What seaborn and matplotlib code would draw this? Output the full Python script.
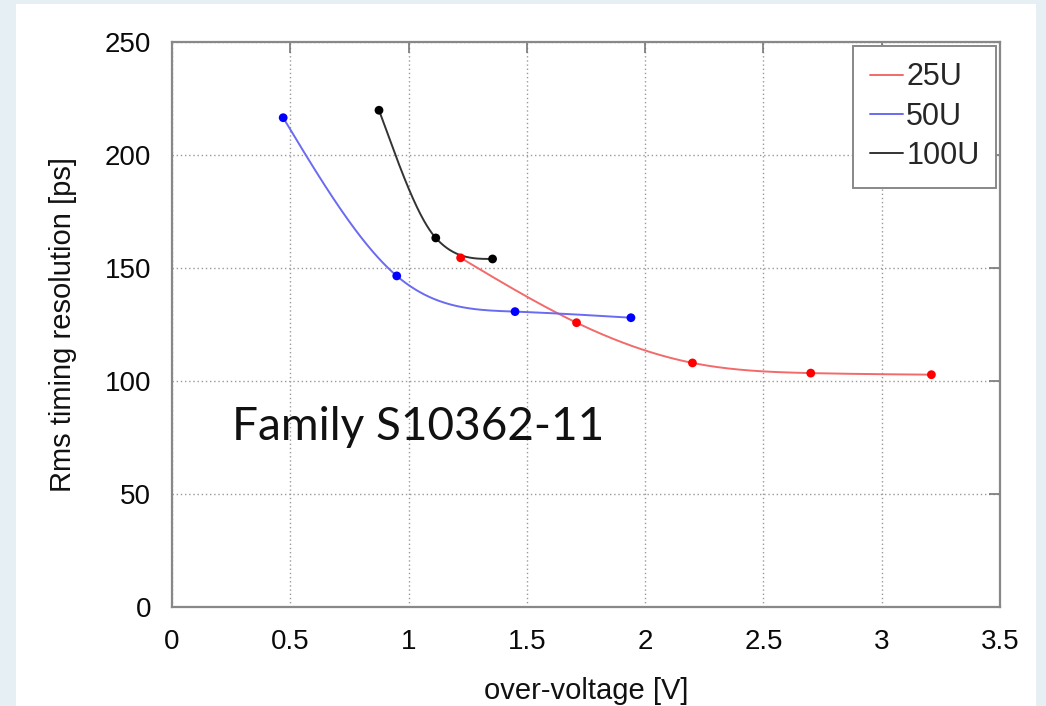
import numpy as np
import pandas as pd
import matplotlib
matplotlib.use("Agg")
import matplotlib.pyplot as plt
from matplotlib.patches import Rectangle
import seaborn as sns

# Measured timing resolution vs over-voltage for the S10362-11 family
series_names = ["25U", "50U", "100U"]
v_25u = [1.22, 1.71, 2.20, 2.70, 3.21]
t_25u = [154.5, 125.8, 108.0, 103.5, 102.8]
v_50u = [0.47, 0.95, 1.45, 1.94]
t_50u = [216.5, 146.5, 130.7, 128.0]
v_100u = [0.875, 1.115, 1.355]
t_100u = [219.8, 163.3, 154.0]

x_ticks = [0, 0.5, 1, 1.5, 2, 2.5, 3, 3.5]
x_tick_labels = ["0", "0.5", "1", "1.5", "2", "2.5", "3", "3.5"]
y_ticks = [0, 50, 100, 150, 200, 250]

line_colors = {"25U": "#f26a6a", "50U": "#6a6af2", "100U": "#333333"}
dot_colors = {"25U": "#ff0000", "50U": "#0000ff", "100U": "#000000"}


def smooth_curve(x, y, n=300):
    """Natural cubic spline slopes, limited so the curve never overshoots."""
    x = np.asarray(x, float)
    y = np.asarray(y, float)
    k = len(x)
    h = np.diff(x)
    delta = np.diff(y) / h
    # second derivatives of the natural spline
    A = np.zeros((k, k))
    b = np.zeros(k)
    A[0, 0] = A[-1, -1] = 1.0
    for i in range(1, k - 1):
        A[i, i - 1] = h[i - 1]
        A[i, i] = 2 * (h[i - 1] + h[i])
        A[i, i + 1] = h[i]
        b[i] = 6 * (delta[i] - delta[i - 1])
    M = np.linalg.solve(A, b)
    d = np.empty(k)
    d[:-1] = delta - h * (2 * M[:-1] + M[1:]) / 6
    d[-1] = delta[-1] + h[-1] * (M[-2] + 2 * M[-1]) / 6
    # Fritsch-Carlson limiting
    for i in range(k - 1):
        if delta[i] == 0:
            d[i] = d[i + 1] = 0.0
            continue
        a, bb = d[i] / delta[i], d[i + 1] / delta[i]
        if a < 0:
            d[i] = 0.0
            a = 0.0
        if bb < 0:
            d[i + 1] = 0.0
            bb = 0.0
        r = a * a + bb * bb
        if r > 9:
            tau = 3 / np.sqrt(r)
            d[i] = tau * a * delta[i]
            d[i + 1] = tau * bb * delta[i]
    xs = np.linspace(x[0], x[-1], n)
    idx = np.clip(np.searchsorted(x, xs) - 1, 0, k - 2)
    t = (xs - x[idx]) / h[idx]
    h00 = 2 * t ** 3 - 3 * t ** 2 + 1
    h10 = t ** 3 - 2 * t ** 2 + t
    h01 = -2 * t ** 3 + 3 * t ** 2
    h11 = t ** 3 - t ** 2
    ys = (h00 * y[idx] + h10 * h[idx] * d[idx]
          + h01 * y[idx + 1] + h11 * h[idx] * d[idx + 1])
    return xs, ys


raw = {"25U": (v_25u, t_25u), "50U": (v_50u, t_50u), "100U": (v_100u, t_100u)}
points = pd.concat(
    [pd.DataFrame({"V": v, "T": t, "series": name}) for name, (v, t) in raw.items()],
    ignore_index=True,
)
curves = []
for name, (v, t) in raw.items():
    xs, ys = smooth_curve(v, t)
    curves.append(pd.DataFrame({"V": xs, "T": ys, "series": name}))
curves = pd.concat(curves, ignore_index=True)

sns.set_style("white")
plt.rcParams["font.family"] = ["Liberation Sans", "DejaVu Sans"]

fig = plt.figure(figsize=(10.46, 7.06), dpi=100)
fig.patch.set_facecolor("#e6eff4")
fig.patches.append(Rectangle((16 / 1046, 0), 1020 / 1046, 702 / 706,
                             transform=fig.transFigure, facecolor="white",
                             edgecolor="none", zorder=-10))

ax = fig.add_axes([172 / 1046, 99 / 706, 828 / 1046, 565 / 706])
ax.set_zorder(1)
ax.set_facecolor("white")

sns.lineplot(data=curves, x="V", y="T", hue="series", hue_order=series_names,
             palette=line_colors, linewidth=1.4, sort=False, estimator=None,
             ax=ax, zorder=3)
sns.scatterplot(data=points, x="V", y="T", hue="series", hue_order=series_names,
                palette=dot_colors, s=40, edgecolor="none", legend=False,
                ax=ax, zorder=4)

ax.set_xlim(0, 3.5)
ax.set_ylim(0, 250)
ax.set_xticks(x_ticks)
ax.set_xticklabels(x_tick_labels)
ax.set_yticks(y_ticks)
ax.grid(True, color="#999999", linestyle=(0, (1, 2)), linewidth=1.0)
ax.tick_params(direction="in", length=8, width=1.2, color="#777777",
               top=True, right=True, labelsize=20, labelcolor="#0a0a0a")
ax.tick_params(axis="y", pad=15)
ax.tick_params(axis="x", pad=16)
for sp in ax.spines.values():
    sp.set_visible(True)
    sp.set_color("#888888")
    sp.set_linewidth(1.6)

ax.set_xlabel("over-voltage [V]", fontsize=21, labelpad=16, color="#111111")
ax.set_ylabel("Rms timing resolution [ps]", fontsize=21, labelpad=20, color="#111111")

ax.text(0.255, 74, "Family S10362-11", fontsize=33, family=["Lato", "DejaVu Sans"],
        ha="left", va="baseline", color="#111111", zorder=5)

leg = ax.legend(loc="upper right", fontsize=22, frameon=True, fancybox=False,
                handlelength=1.1, handletextpad=0.1, labelspacing=0.3,
                borderpad=0.55, borderaxespad=0.12, title=None)
leg.get_frame().set_edgecolor("#888888")
leg.get_frame().set_linewidth(1.4)
leg.get_frame().set_facecolor("white")
leg.get_frame().set_alpha(1.0)
for h in leg.get_lines():
    h.set_linewidth(1.4)

fig.savefig("out.png", dpi=100)
